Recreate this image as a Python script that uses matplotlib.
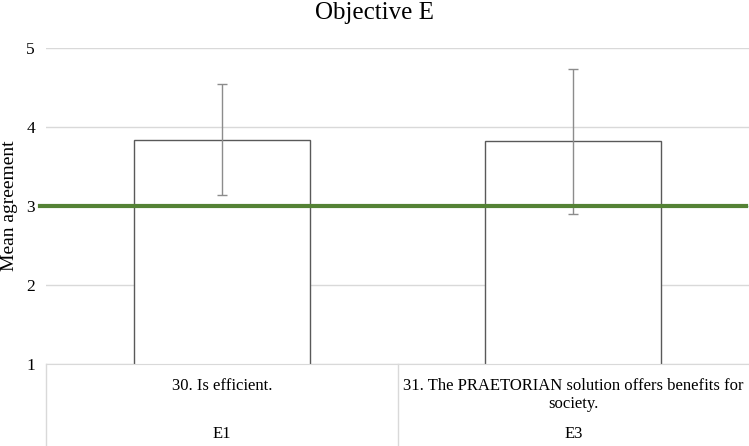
import matplotlib
matplotlib.use("Agg")
import matplotlib.pyplot as plt
import matplotlib.transforms as mtransforms

codes = ["E1", "E3"]
items = ["30. Is efficient.", "31. The PRAETORIAN solution offers benefits for\nsociety."]
means = [3.84, 3.82]
errors = [0.70, 0.92]
threshold = 3
y_ticks = [1, 2, 3, 4, 5]

plt.rcParams["font.family"] = ["Liberation Serif", "DejaVu Serif"]

fig = plt.figure(figsize=(7.49, 4.46), dpi=100)
ax = fig.add_axes([46 / 749, (446 - 364) / 446, 703 / 749, (364 - 48) / 446])

x = list(range(len(codes)))
ax.bar(x, means, width=0.5, bottom=0, color="white", edgecolor="#595959",
       linewidth=1, zorder=2)
ax.errorbar(x, means, yerr=errors, fmt="none", ecolor="#8c8c8c",
            elinewidth=1, capsize=3.5, capthick=1, zorder=3)
ax.axhline(threshold, xmin=-0.008, xmax=0.996, color="#548235", linewidth=3,
           clip_on=False, zorder=4)

ax.set_xlim(-0.5, len(codes) - 0.5)
ax.set_ylim(y_ticks[0], y_ticks[-1])
ax.set_yticks(y_ticks)
ax.yaxis.grid(True, color="#d9d9d9", linewidth=1)
ax.set_axisbelow(True)
for s in ["top", "right", "left"]:
    ax.spines[s].set_visible(False)
ax.spines["bottom"].set_color("#d9d9d9")
ax.tick_params(axis="y", length=0, labelsize=12.5, pad=8)
ax.set_xticks([])
ax.set_ylabel("Mean agreement", fontsize=14)
ax.yaxis.set_label_coords(-28 / 703, 0.5)

# chart title, centred on the whole figure
fig.text(0.5, 1 - 19 / 446, "Objective E", ha="center", va="baseline", fontsize=18)

# category table under the axis
trans = mtransforms.blended_transform_factory(ax.transData, ax.transAxes)
bottom = -82 / 316
for b in [i - 0.5 for i in range(len(codes))]:
    ax.plot([b, b], [0, bottom], color="#d9d9d9", linewidth=1,
            transform=trans, clip_on=False)
for i in x:
    ax.text(i, -14 / 316, items[i], transform=trans, ha="center", va="top",
            fontsize=12, linespacing=1.15)
    ax.text(i, -70 / 316, codes[i], transform=trans, ha="center", va="center",
            fontsize=12)

fig.savefig("out.png", dpi=100)
